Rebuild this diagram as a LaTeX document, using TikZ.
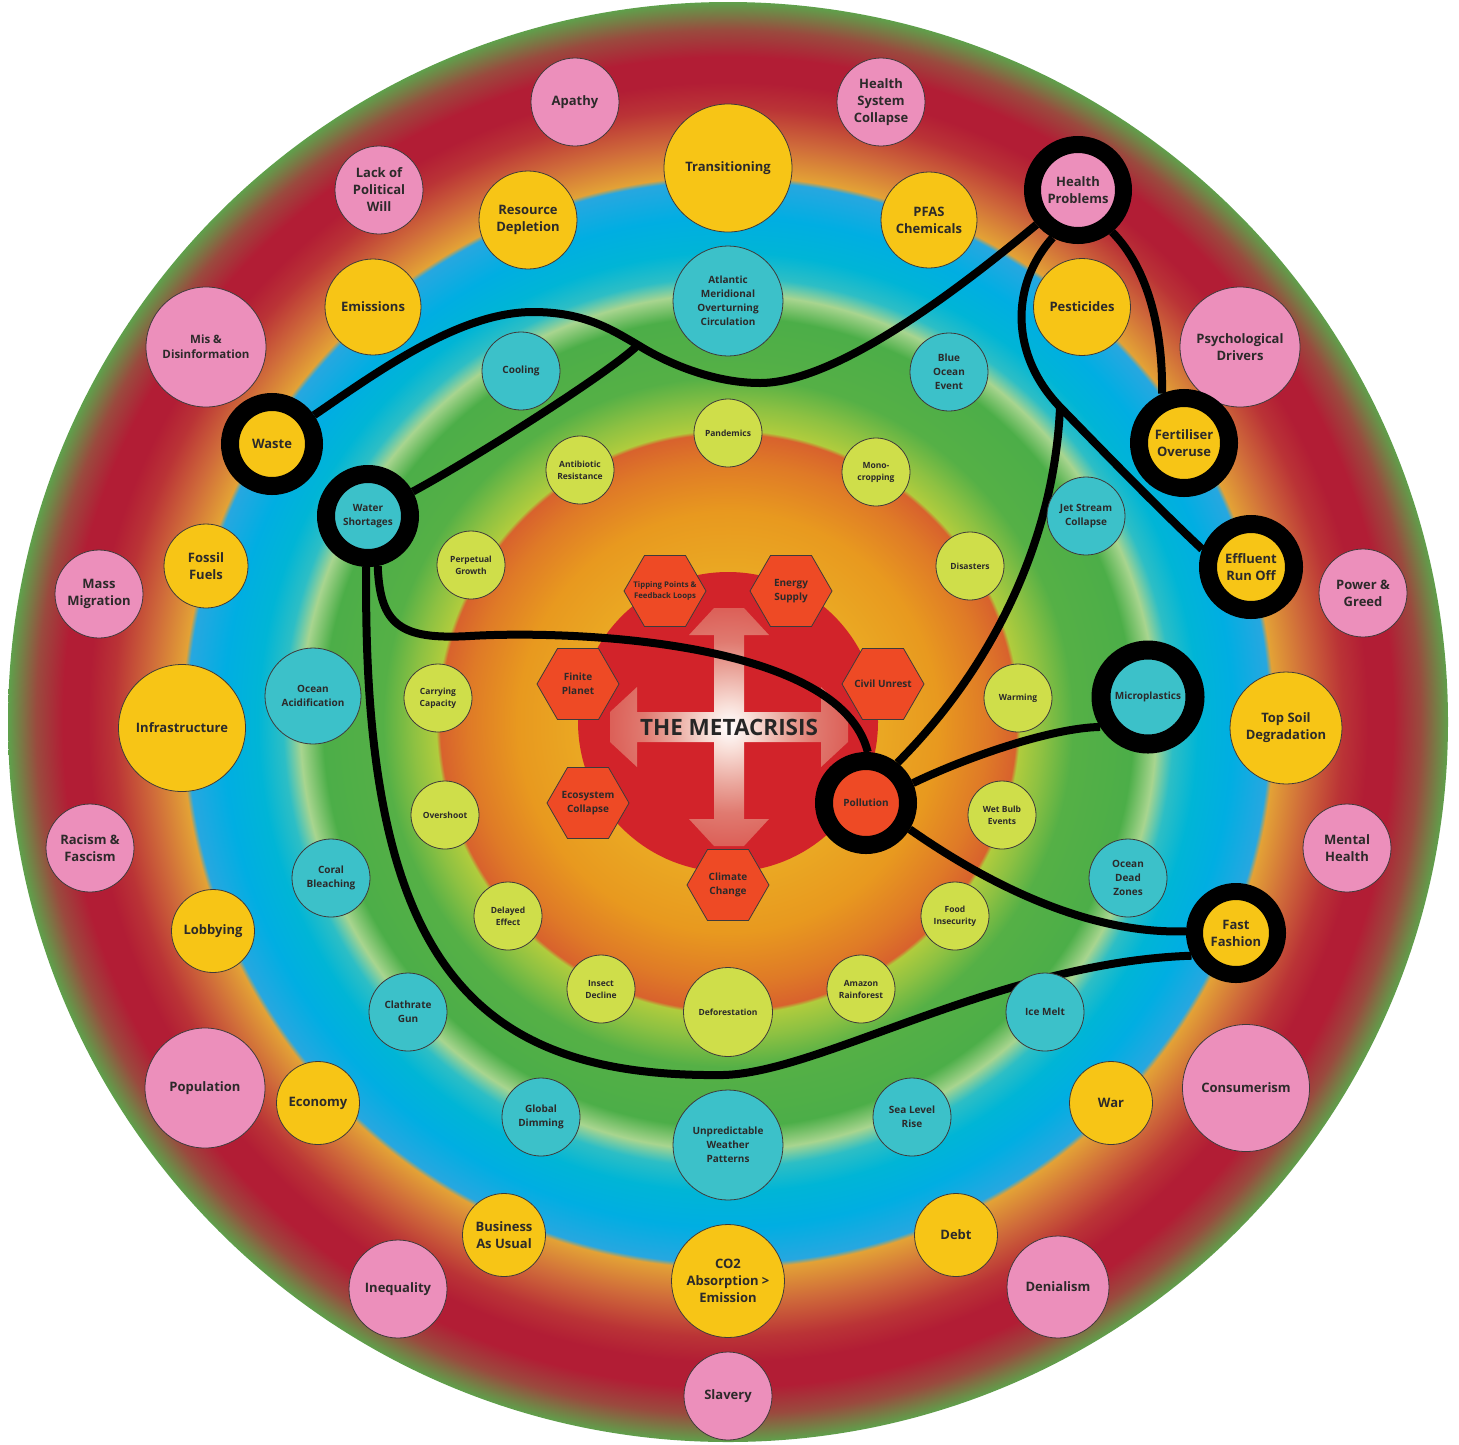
\documentclass[tikz,border=0pt]{standalone}
\usepackage{fontspec}
\setmainfont{Open Sans}
\usetikzlibrary{shapes.geometric}
\pgfdeclarelayer{bglayer}
\pgfsetlayers{bglayer,main}
\definecolor{outl}{HTML}{3F3A3A}
\definecolor{txtc}{HTML}{2C2A2A}
\definecolor{titlec}{HTML}{262626}
\definecolor{pinkc}{HTML}{EC8FBB}
\definecolor{yellc}{HTML}{F7C516}
\definecolor{tealc}{HTML}{3CC1C9}
\definecolor{limec}{HTML}{CFDE4A}
\definecolor{hexc}{HTML}{EE4A25}
\definecolor{discred}{HTML}{D2232A}
\definecolor{gold}{HTML}{EAA823}
\definecolor{oran1}{HTML}{E8991F}
\definecolor{oran2}{HTML}{DF7A27}
\definecolor{oran3}{HTML}{D8622D}
\definecolor{ygreen}{HTML}{B0CC3D}
\definecolor{green1}{HTML}{8DC142}
\definecolor{green2}{HTML}{55B046}
\definecolor{green3}{HTML}{4CAE48}
\definecolor{palegreen}{HTML}{A8D58F}
\definecolor{tealbg}{HTML}{2DBEC5}
\definecolor{blue1}{HTML}{00B5D6}
\definecolor{blue2}{HTML}{00AEE2}
\definecolor{blue3}{HTML}{27A7E0}
\definecolor{orangeo}{HTML}{E3A236}
\definecolor{orangeo2}{HTML}{CF6A3A}
\definecolor{redo1}{HTML}{BA3336}
\definecolor{redo}{HTML}{B21D35}
\definecolor{redo2}{HTML}{B21D35}
\definecolor{browno}{HTML}{9A4A3E}
\definecolor{greeno}{HTML}{5FA04B}
\definecolor{glowa}{HTML}{F8DDD6}
\definecolor{glowb}{HTML}{EAA69C}
\definecolor{glowc}{HTML}{E07A70}
\definecolor{glowd}{HTML}{DC6058}
\pgfdeclareradialshading{bgshade}{\pgfpoint{0bp}{0bp}}{color(0bp)=(gold); color(5.208bp)=(gold); color(7.292bp)=(oran1); color(9.028bp)=(oran2); color(10bp)=(oran3); color(10.139bp)=(ygreen); color(10.938bp)=(green1); color(11.979bp)=(green2); color(14.063bp)=(green3); color(14.861bp)=(palegreen); color(15.451bp)=(tealbg); color(16.319bp)=(blue1); color(17.535bp)=(blue2); color(18.785bp)=(blue3); color(18.958bp)=(orangeo); color(20.139bp)=(orangeo2); color(21.354bp)=(redo1); color(22.222bp)=(redo); color(23.090bp)=(redo2); color(24.028bp)=(browno); color(25bp)=(greeno); color(50bp)=(greeno)}
\pgfdeclareradialshading{glow}{\pgfpoint{0bp}{0bp}}{color(0bp)=(white); color(5bp)=(glowa); color(12bp)=(glowb); color(18bp)=(glowc); color(25bp)=(glowd); color(50bp)=(glowd)}
\tikzset{
  bub/.style={circle, draw=outl, line width=0.8pt, inner sep=0pt, align=center, text=txtc},
  pinkn/.style={bub, fill=pinkc, font=\fontsize{13}{17}\selectfont\bfseries},
  yelln/.style={bub, fill=yellc, font=\fontsize{13}{17}\selectfont\bfseries},
  tealn/.style={bub, fill=tealc, font=\fontsize{10}{14}\selectfont\bfseries},
  limen/.style={bub, fill=limec, font=\fontsize{8.5}{12}\selectfont\bfseries},
  hexn/.style={regular polygon, regular polygon sides=6, draw=outl, line width=0.8pt, fill=hexc, inner sep=0pt, minimum size=82pt},
  hexlab/.style={inner sep=0pt, align=center, text=txtc, font=\fontsize{10}{14}\selectfont\bfseries},
  ringed/.style={draw=black, line width=#1},
  conn/.style={draw=black, line width=8pt},
}
\begin{document}
\begin{tikzpicture}[x=1pt, y=-1pt]
\useasboundingbox (0,0) rectangle (1459,1444);
% ---------- pink (outer ring)
\node[pinkn, minimum size=88pt] (apathy) at (575,102) {Apathy};
\node[pinkn, minimum size=88pt] (hsc) at (881,102) {Health\\System\\Collapse};
\node[pinkn, minimum size=88pt] (lack) at (379,190) {Lack of\\Political\\Will};
\node[pinkn, minimum size=120pt, font=\fontsize{11.5}{15}\selectfont\bfseries] (mis) at (206,347) {Mis \&\\Disinformation};
\node[pinkn, minimum size=91pt, ringed=17pt] (hp) at (1078,190) {Health\\Problems};
\node[pinkn, minimum size=120pt] (psych) at (1240,347) {Psychological\\Drivers};
\node[pinkn, minimum size=88pt] (massmig) at (99,594) {Mass\\Migration};
\node[pinkn, minimum size=88pt] (power) at (1363,593) {Power \&\\Greed};
\node[pinkn, minimum size=88pt] (racism) at (90,848) {Racism \&\\Fascism};
\node[pinkn, minimum size=88pt] (mental) at (1347,848) {Mental\\Health};
\node[pinkn, minimum size=120pt] (population) at (205,1088) {Population};
\node[pinkn, minimum size=127pt] (consumer) at (1246,1088) {Consumerism};
\node[pinkn, minimum size=98pt] (inequality) at (398,1289) {Inequality};
\node[pinkn, minimum size=102pt] (denial) at (1058,1287) {Denialism};
\node[pinkn, minimum size=88pt] (slavery) at (728,1396) {Slavery};
% ---------- yellow
\node[yelln, minimum size=128pt] (trans) at (728,168) {Transitioning};
\node[yelln, minimum size=98pt] (resource) at (528,220) {Resource\\Depletion};
\node[yelln, minimum size=96pt] (pfas) at (929,220) {PFAS\\Chemicals};
\node[yelln, minimum size=96pt] (emissions) at (373,307) {Emissions};
\node[yelln, minimum size=97pt] (pesticides) at (1082,307) {Pesticides};
\node[yelln, minimum size=84pt, ringed=18pt] (waste) at (272,444) {Waste};
\node[yelln, minimum size=90pt, ringed=18pt] (fert) at (1184,443) {Fertiliser\\Overuse};
\node[yelln, minimum size=84pt] (fossil) at (206,566) {Fossil\\Fuels};
\node[yelln, minimum size=86pt, ringed=18pt] (eff) at (1251,567) {Effluent\\Run Off};
\node[yelln, minimum size=127pt] (infra) at (182,728) {Infrastructure};
\node[yelln, minimum size=112pt] (topsoil) at (1286,728) {Top Soil\\Degradation};
\node[yelln, minimum size=83pt] (lobby) at (213,931) {Lobbying};
\node[yelln, minimum size=83pt, ringed=17pt] (ff) at (1236,933) {Fast\\Fashion};
\node[yelln, minimum size=83pt] (economy) at (318,1103) {Economy};
\node[yelln, minimum size=83pt] (war) at (1111,1103) {War};
\node[yelln, minimum size=83pt] (business) at (504,1235) {Business\\As Usual};
\node[yelln, minimum size=83pt] (debt) at (956,1235) {Debt};
\node[yelln, minimum size=113pt] (co2) at (728,1281) {CO2\\Absorption >\\Emission};
% ---------- teal
\node[tealn, minimum size=110pt] (amoc) at (728,301) {Atlantic\\Meridional\\Overturning\\Circulation};
\node[tealn, minimum size=78pt] (cooling) at (521,371) {Cooling};
\node[tealn, minimum size=78pt] (blueocean) at (949,372) {Blue\\Ocean\\Event};
\node[tealn, minimum size=84pt, ringed=18pt] (water) at (368,516) {Water\\Shortages};
\node[tealn, minimum size=78pt] (jet) at (1086,516) {Jet Stream\\Collapse};
\node[tealn, minimum size=96pt] (acid) at (313,696) {Ocean\\Acidification};
\node[tealn, minimum size=94pt, ringed=19pt] (micro) at (1148,697) {Microplastics};
\node[tealn, minimum size=78pt] (coral) at (331,878) {Coral\\Bleaching};
\node[tealn, minimum size=78pt] (deadzones) at (1128,878) {Ocean\\Dead\\Zones};
\node[tealn, minimum size=78pt] (clathrate) at (408,1012) {Clathrate\\Gun};
\node[tealn, minimum size=78pt] (icemelt) at (1045,1012) {Ice Melt};
\node[tealn, minimum size=78pt] (dimming) at (541,1117) {Global\\Dimming};
\node[tealn, minimum size=78pt] (sealevel) at (912,1117) {Sea Level\\Rise};
\node[tealn, minimum size=110pt] (weather) at (728,1145) {Unpredictable\\Weather\\Patterns};
% ---------- lime
\node[limen, minimum size=68pt] (pandemics) at (728,433) {Pandemics};
\node[limen, minimum size=68pt] (antibiotic) at (580,470) {Antibiotic\\Resistance};
\node[limen, minimum size=68pt] (mono) at (876,472) {Mono-\\cropping};
\node[limen, minimum size=68pt] (perpetual) at (471,565) {Perpetual\\Growth};
\node[limen, minimum size=68pt] (disasters) at (970,566) {Disasters};
\node[limen, minimum size=68pt] (carrying) at (438,698) {Carrying\\Capacity};
\node[limen, minimum size=68pt] (warming) at (1018,698) {Warming};
\node[limen, minimum size=68pt] (overshoot) at (445,815) {Overshoot};
\node[limen, minimum size=68pt] (wetbulb) at (1002,815) {Wet Bulb\\Events};
\node[limen, minimum size=68pt] (delayed) at (508,916) {Delayed\\Effect};
\node[limen, minimum size=68pt] (food) at (955,916) {Food\\Insecurity};
\node[limen, minimum size=68pt] (insect) at (601,989) {Insect\\Decline};
\node[limen, minimum size=68pt] (amazon) at (861,989) {Amazon\\Rainforest};
\node[limen, minimum size=89pt] (defor) at (728,1012) {Deforestation};
% ---------- hexagons
\node[hexn] (tipping) at (665,591) {};
\node[hexlab, font=\fontsize{7.8}{10.7}\selectfont\bfseries] (tippingt) at (tipping) {Tipping Points \&\\Feedback Loops};
\node[hexn] (energy) at (791,591) {};
\node[hexlab] (energyt) at (energy) {Energy\\Supply};
\node[hexn] (finite) at (578,684) {};
\node[hexlab] (finitet) at (finite) {Finite\\Planet};
\node[hexn] (civil) at (883,684) {};
\node[hexlab] (civilt) at (civil) {Civil Unrest};
\node[hexn] (ecosys) at (588,803) {};
\node[hexlab] (ecosyst) at (ecosys) {Ecosystem\\Collapse};
\node[hexn] (climate) at (728,885) {};
\node[hexlab] (climatet) at (climate) {Climate\\Change};
\node[bub, fill=hexc, minimum size=84pt, ringed=18pt, font=\fontsize{10}{14}\selectfont\bfseries] (poll) at (866,803) {Pollution};
% ---------- junctions
\coordinate (j1) at (638,345);
\coordinate (j2) at (1060,407);
\begin{pgfonlayer}{bglayer}
\fill[white] (0,0) rectangle (1459,1444);
\shade[shading=bgshade] (728,722) circle[radius=720];
\fill[discred] (728,722) circle[radius=150];
\begin{scope}[shift={(729,727)}]
\shade[shading=glow] (15,-119) -- (40,-92) -- (15,-92) -- (15,-15) -- (92,-15) -- (92,-40) -- (119,-15) -- (119,15) -- (92,40) -- (92,15) -- (15,15) -- (15,92) -- (40,92) -- (15,119) -- (-15,119) -- (-40,92) -- (-15,92) -- (-15,15) -- (-92,15) -- (-92,40) -- (-119,15) -- (-119,-15) -- (-92,-40) -- (-92,-15) -- (-15,-15) -- (-15,-92) -- (-40,-92) -- (-15,-119) -- cycle;
\end{scope}
\node[font=\fontsize{22.5}{25}\selectfont\bfseries, text=titlec] (title) at (729,727) {THE METACRISIS};
% ---------- connectors
\draw[conn] (waste) .. controls (380,370) and (460,312) .. (533,312) .. controls (585,312) and (612,330) .. (j1) .. controls (665,362) and (712,383) .. (760,383) .. controls (830,383) and (940,305) .. (hp);
\draw[conn] (water) .. controls (480,455) and (610,372) .. (j1);
\draw[conn] (hp.-51) .. controls (1148,268) and (1163,330) .. (fert.114);
\draw[conn] (hp.-118) .. controls (1010,285) and (1010,355) .. (j2) .. controls (1095,443) and (1160,510) .. (eff.160);
\draw[conn] (j2) .. controls (1055,530) and (1000,660) .. (poll.52);
\draw[conn] (poll.23) .. controls (965,758) and (1050,728) .. (micro.212);
\draw[conn] (poll.-31) .. controls (975,875) and (1080,935) .. (ff.178);
\draw[conn] (water.-79) .. controls (380,625) and (400,640) .. (470,636) .. controls (570,630) and (840,640) .. (poll.88);
\draw[conn] (water.-92) .. controls (362,960) and (470,1078) .. (723,1075) .. controls (820,1073) and (1000,962) .. (ff.207);
\end{pgfonlayer}
\end{tikzpicture}
\end{document}
